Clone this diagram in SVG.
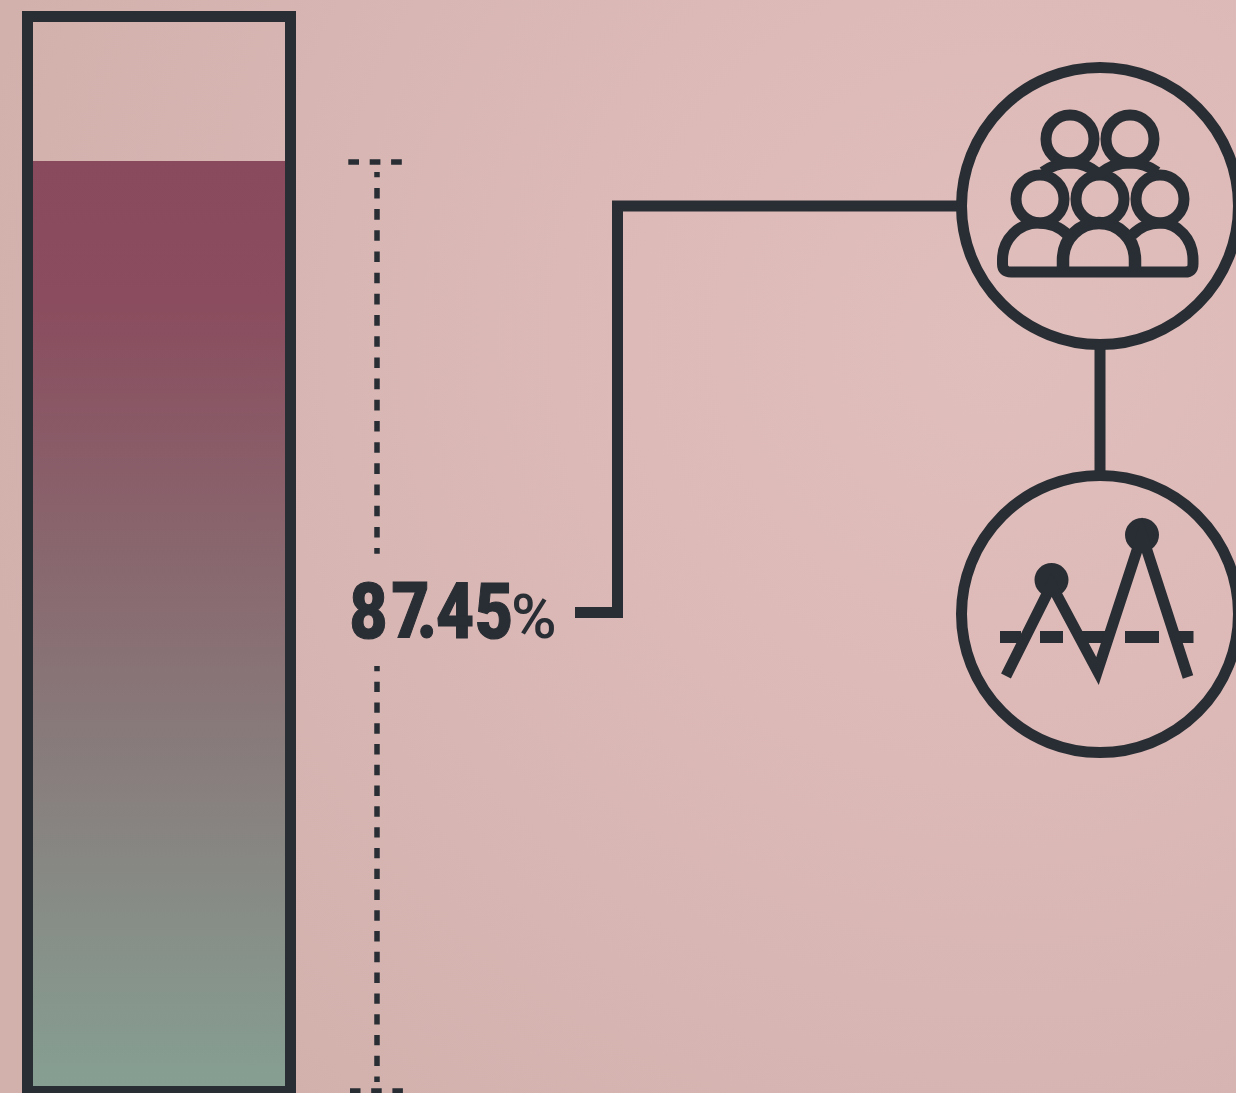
<svg xmlns="http://www.w3.org/2000/svg" width="1236" height="1093" viewBox="0 0 1236 1093">
<style>
.s{fill:none;stroke:#292e34;stroke-width:11}
.i{fill:none;stroke:#292e34;stroke-width:11;stroke-linejoin:round}
.d{fill:none;stroke:#292e34;stroke-width:5.5}
.k{fill:#292e34}
</style>
<defs>
<radialGradient id="bg" gradientUnits="userSpaceOnUse" cx="1000" cy="340" r="1040">
<stop offset="0" stop-color="#e0bebb"/><stop offset="0.35" stop-color="#ddbab8"/><stop offset="1" stop-color="#d2b1ad"/>
</radialGradient>
<linearGradient id="fill" x1="0" y1="161" x2="0" y2="1086" gradientUnits="userSpaceOnUse">
<stop offset="0" stop-color="#8a4a5e"/><stop offset="0.15" stop-color="#8a4c5e"/><stop offset="1" stop-color="#869f92"/>
</linearGradient>
</defs>
<rect width="1236" height="1093" fill="url(#bg)"/>
<g id="gauge">
<rect x="33" y="161" width="253" height="925" fill="url(#fill)"/>
<rect x="27.500" y="16.500" width="263" height="1075" class="s"/>
</g>
<g id="scale">
<path class="d" d="M348.300 162H402" stroke-dasharray="10.700 10.700"/>
<path class="d" d="M350 1091H404" stroke-dasharray="10.500 10.700"/>
<path class="d" d="M377 172V553.700" stroke-dasharray="10.600 10.590" stroke-dashoffset="5.300"/>
<path class="d" d="M377 666V1082" stroke-dasharray="10.400 10.380" stroke-dashoffset="5.100"/>
</g>
<g id="connectors">
<path class="s" d="M575 612.500H617.500V206H960"/>
<path class="s" d="M1100 345V476"/>
</g>
<g id="value">
<text transform="translate(0 638) scale(.84 1)" x="416 466 496.400 519 565.500" font-family="Roboto, sans-serif" font-weight="900" font-size="78" fill="#292e34" stroke="#292e34" stroke-width="1.200">87.45</text>
<text x="511" y="638" font-family="Roboto, sans-serif" font-weight="500" font-size="62" fill="#292e34">%</text>
</g>
<g id="people">
<circle class="s" cx="1100" cy="206" r="138.500"/>
<g class="i">
<circle cx="1070" cy="139" r="24"/><circle cx="1130" cy="139" r="24"/>
<circle cx="1040" cy="199" r="24"/><circle cx="1100" cy="199" r="24"/><circle cx="1160" cy="199" r="24"/>
<path d="M1043 172Q1055 163 1070 163Q1086 163 1099 174Q1113 163 1130 163Q1145 163 1157 172"/>
<path d="M1068 235Q1056 223 1038 223C1019 223 1002.500 239 1002.500 260V264Q1002.500 272 1011 272H1185Q1193 272 1193 264V260C1193 239 1178 223 1160 223Q1144 223 1132 235"/>
<path stroke-width="12.500" d="M1063 272V260C1063 238 1080 223 1099 223C1118 223 1135 238 1135 260V272"/>
</g>
</g>
<g id="peaks">
<circle class="s" cx="1100" cy="614" r="138.500"/>
<circle class="k" cx="1051.500" cy="580" r="17"/>
<circle class="k" cx="1142" cy="535" r="17"/>
<path class="k" d="M1000 631H1021V643H1000ZM1040 631H1063V643H1040ZM1125 631H1159V643H1125ZM1174 631H1193.500V643H1174ZM1080 631H1108V643H1080Z"/>
<path fill="none" stroke="#292e34" stroke-width="11" stroke-miterlimit="10" d="M1006 676L1051.500 585L1097.500 671L1142 535L1188 677"/>
</g>
</svg>
